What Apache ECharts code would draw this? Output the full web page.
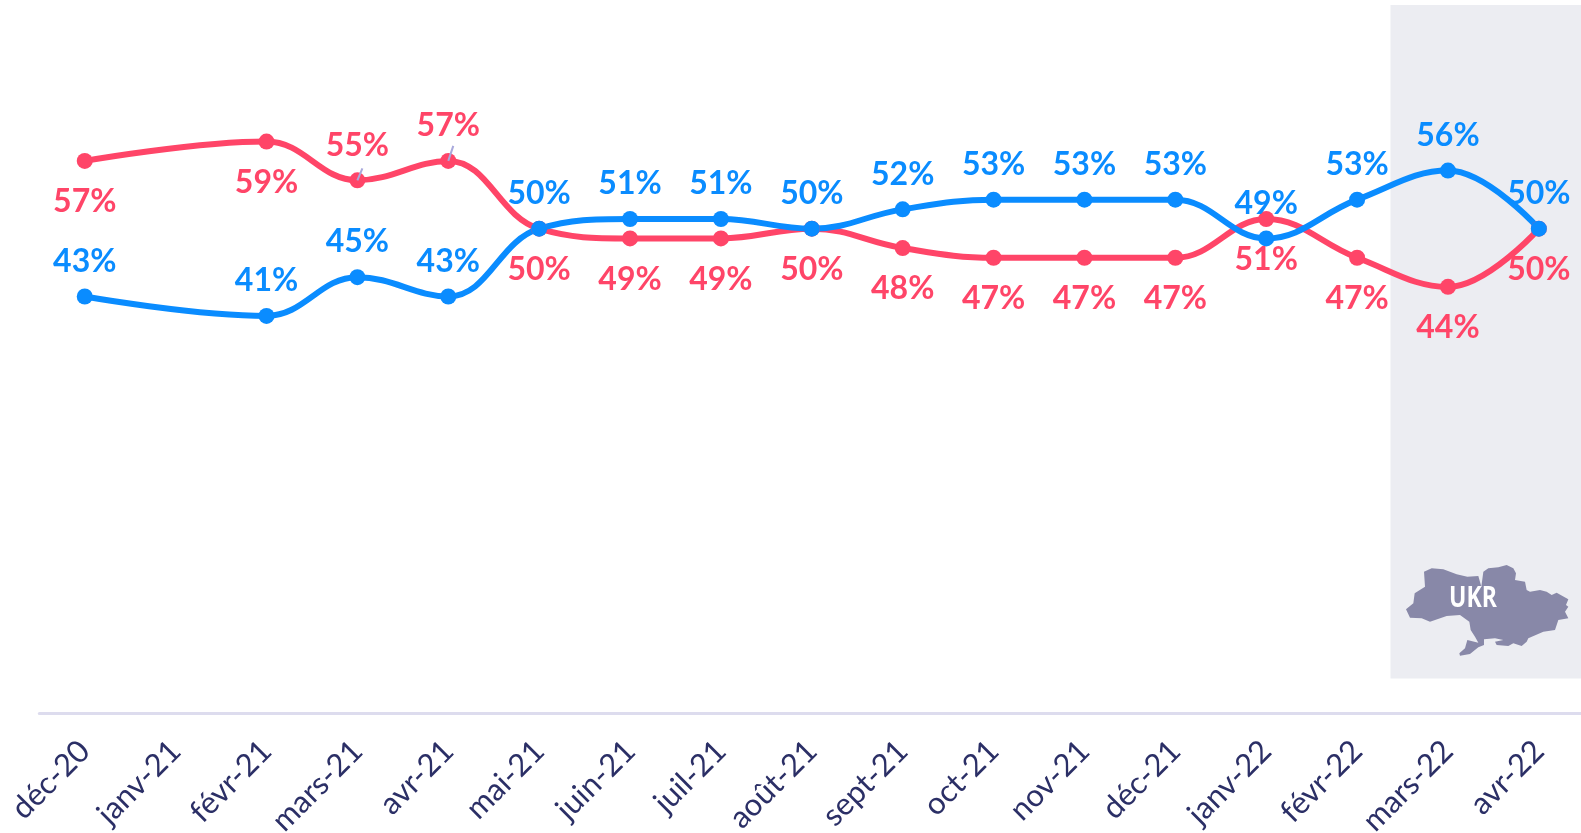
<!DOCTYPE html>
<html>
<head>
<meta charset="utf-8">
<style>
  html, body { margin: 0; padding: 0; background: #fff; }
  #echart1 { width: 1581px; height: 833px; }
</style>
<script src="https://cdn.jsdelivr.net/npm/echarts@6/dist/echarts.min.js"></script>
</head>
<body>
<div id="echart1"></div>
<script>
const months = ['déc-20', 'janv-21', 'févr-21', 'mars-21', 'avr-21', 'mai-21', 'juin-21', 'juil-21', 'août-21', 'sept-21', 'oct-21', 'nov-21', 'déc-21', 'janv-22', 'févr-22', 'mars-22', 'avr-22'];
const blueValues = [43, null, 41, 45, 43, 50, 51, 51, 50, 52, 53, 53, 53, 49, 53, 56, 50];
const redValues = [57, null, 59, 55, 57, 50, 49, 49, 50, 48, 47, 47, 47, 51, 47, 44, 50];
// red labels that sit above the line, with a small leader
const redAbove = ['mars-21', 'avr-21'];

const BLUE = '#0a8cff';
const RED = '#ff4568';
const FONT = 'Lato, "Open Sans", sans-serif';

// outline of the country (3x crop coords)
const mapShape = [[78,208],[100,190],[104,160],[135,140],[132,95],[155,85],[190,88],[230,103],[262,110],[295,108],[304,140],[310,95],[325,85],[355,82],[380,75],[400,85],[408,100],[405,120],[435,125],[440,150],[450,155],[480,150],[500,155],[515,165],[530,158],[565,178],[558,195],[565,200],[555,215],[565,235],[535,240],[525,270],[490,275],[445,295],[440,305],[425,318],[400,310],[385,318],[350,315],[345,305],[370,300],[345,295],[312,298],[312,315],[295,322],[270,342],[240,347],[238,340],[255,325],[262,300],[295,308],[285,290],[272,270],[268,245],[240,225],[200,228],[150,245],[125,235],[90,233]];

let myChart = echarts.init(document.getElementById('echart1'));

function labelStyle(color, position, distance) {
  return {
    show: true,
    position: position,
    distance: distance,
    color: color,
    fontFamily: FONT,
    fontWeight: 'bold',
    fontSize: 32,
    formatter: '{c}%'
  };
}

const redData = redValues.map((v, i) => {
  if (!redAbove.includes(months[i])) return v;
  return { value: v, label: { position: 'top', distance: 11 } };
});

function seriesOf(name, data, color, label) {
  return {
    name: name,
    type: 'line',
    data: data,
    smooth: 0.4,
    connectNulls: true,
    symbol: 'circle',
    symbolSize: 16,
    lineStyle: { color: color, width: 6 },
    itemStyle: { color: color },
    label: label
  };
}

myChart.setOption({
  animation: false,
  // the plot runs past the right edge of the canvas, so no fitting to bounds
  grid: { left: 39.3, top: 35, width: 1545, height: 678, outerBoundsMode: 'none' },
  xAxis: {
    type: 'category',
    data: months,
    axisLine: { lineStyle: { color: '#dddcee', width: 3 } },
    axisTick: { show: false },
    axisLabel: {
      interval: 0,
      rotate: 45,
      margin: 33,
      color: '#2b2f66',
      fontFamily: FONT,
      fontWeight: 400,
      fontSize: 31
    }
  },
  yAxis: { type: 'value', min: 0, max: 70, show: false },
  graphic: [
    { type: 'rect', z: 0, shape: { x: 1390.5, y: 5, width: 191, height: 673.5 }, style: { fill: '#ecedf2' } },
    {
      type: 'polygon', z: 1, x: 1380, y: 540, scaleX: 1 / 3, scaleY: 1 / 3,
      shape: { points: mapShape },
      style: { fill: '#8888a8' }
    },
    {
      type: 'text', z: 2, x: 1473, y: 599, scaleX: 0.82,
      style: { text: 'UKR', fill: '#fff', font: 'bold 28px "Open Sans", sans-serif', textAlign: 'center', textVerticalAlign: 'middle' }
    }
  ],
  series: [
    seriesOf('red', redData, RED, labelStyle(RED, 'bottom', 17)),
    seriesOf('blue', blueValues, BLUE, labelStyle(BLUE, 'top', 11))
  ]
});

// short leaders from the two red points up to their labels
const leaders = redAbove.map((m, k) => {
  const p = myChart.convertToPixel({ seriesIndex: 0 }, [m, redValues[months.indexOf(m)]]);
  return {
    id: 'leader' + k,
    type: 'line', z: 10, zlevel: 1,
    shape: { x1: p[0], y1: p[1], x2: p[0] + 5, y2: p[1] - (k === 0 ? 12 : 15) },
    style: { stroke: '#a9a9dc', lineWidth: 2 }
  };
});
myChart.setOption({ graphic: leaders });
</script>
</body>
</html>
